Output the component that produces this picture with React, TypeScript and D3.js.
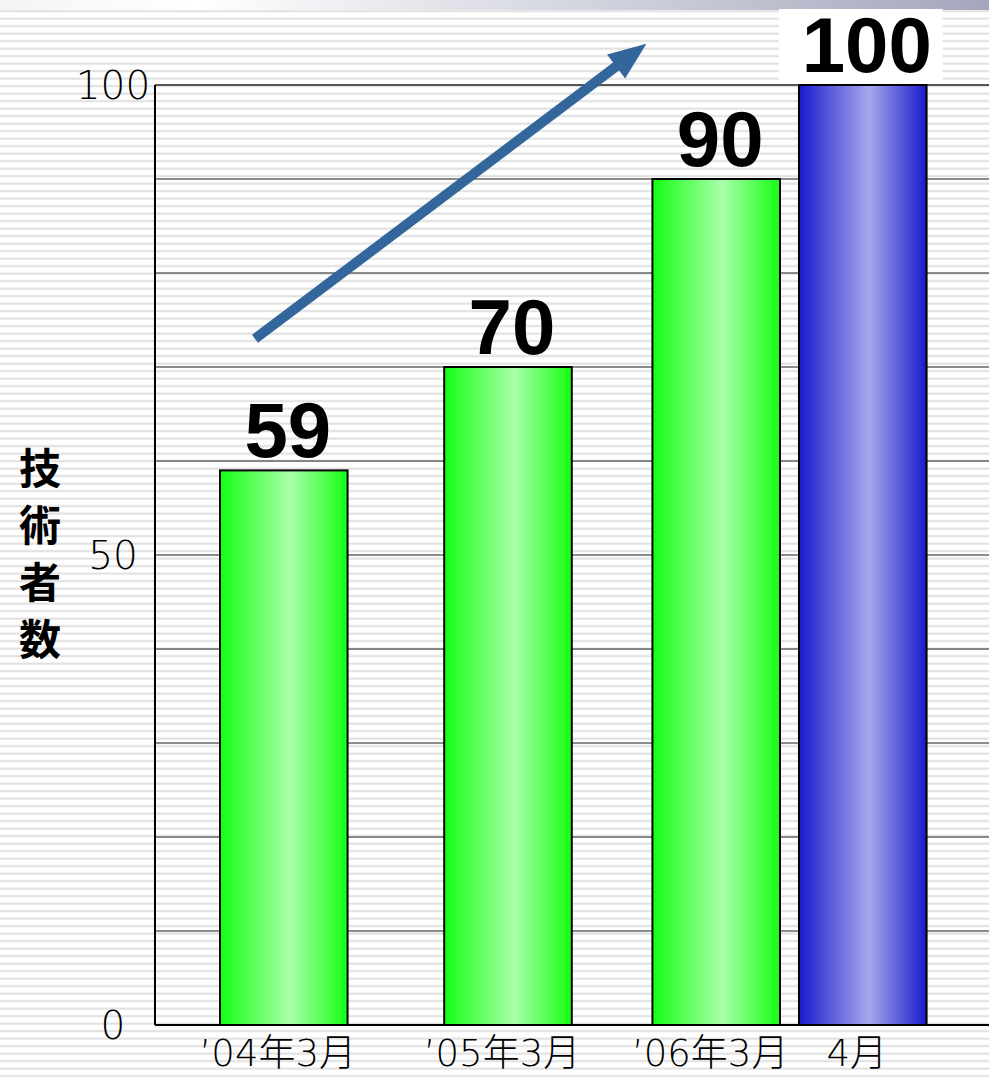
import React, { useRef, useEffect } from 'react';
import * as d3 from 'd3';

const categories = ['’04年3月', '’05年3月', '’06年3月', '4月'];
const values = [59, 70, 90, 100];
const yTicks = [0, 50, 100];
const gridValues = [10, 20, 30, 40, 50, 60, 70, 80, 90, 100];
const axisTitle = ['技', '術', '者', '数'];

const WIDTH = 989;
const HEIGHT = 1077;

function drawChart(svgEle: SVGSVGElement) {
  const svg = d3.select(svgEle);
  svg.selectAll('*').remove();

  const plot = { left: 155, right: WIDTH, top: 85, bottom: 1025 };

  const defs = svg.append('defs');
  // 背景の横縞
  const pattern = defs
    .append('pattern')
    .attr('id', 'stripes')
    .attr('patternUnits', 'userSpaceOnUse')
    .attr('width', 8)
    .attr('height', 7.5);
  pattern.append('rect').attr('width', 8).attr('height', 7.5).attr('fill', '#ffffff');
  pattern.append('rect').attr('y', 2.5).attr('width', 8).attr('height', 2.2).attr('fill', '#e2e2e2');

  const topGrad = defs.append('linearGradient').attr('id', 'topband');
  topGrad.append('stop').attr('offset', '0%').attr('stop-color', '#f4f4f6');
  topGrad.append('stop').attr('offset', '20%').attr('stop-color', '#ffffff');
  topGrad.append('stop').attr('offset', '100%').attr('stop-color', '#a4a7bc');

  const barGrad = (id: string, edge: string, mid: string) => {
    const g = defs.append('linearGradient').attr('id', id);
    g.append('stop').attr('offset', '0%').attr('stop-color', edge);
    g.append('stop').attr('offset', '55%').attr('stop-color', mid);
    g.append('stop').attr('offset', '100%').attr('stop-color', edge);
  };
  barGrad('green', '#14ff14', '#aaffaa');
  barGrad('blue', '#1a1acc', '#a8a8ee');

  svg.append('rect').attr('width', WIDTH).attr('height', HEIGHT).attr('fill', 'url(#stripes)');
  svg.append('rect').attr('width', WIDTH).attr('height', 10).attr('fill', 'url(#topband)');

  const y = d3.scaleLinear().domain([0, 100]).range([plot.bottom, plot.top]);

  // 3月の棒は等間隔、4月は'06年3月の隣に置く
  const x = d3
    .scaleBand<string>()
    .domain(categories.slice(0, 3))
    .range([220, 780])
    .paddingInner(0.41)
    .paddingOuter(0);
  const bw = x.bandwidth();
  const xPos = (c: string, i: number) =>
    i < 3 ? (x(c) as number) + (i === 1 ? 8 : 0) : (x(categories[2]) as number) + (bw + 19) * (i - 2);

  // 目盛線
  svg
    .selectAll('.grid')
    .data(gridValues)
    .enter()
    .append('line')
    .attr('x1', plot.left)
    .attr('x2', plot.right)
    .attr('y1', (d) => y(d))
    .attr('y2', (d) => y(d))
    .attr('stroke', (d) => (d === 100 ? '#222' : '#666'))
    .attr('stroke-width', 1.5);

  // 棒
  svg
    .selectAll('.bar')
    .data(values)
    .enter()
    .append('rect')
    .attr('x', (d, i) => xPos(categories[i], i))
    .attr('y', (d) => y(d))
    .attr('width', bw)
    .attr('height', (d) => y(0) - y(d))
    .attr('fill', (d, i) => (i === 3 ? 'url(#blue)' : 'url(#green)'))
    .attr('stroke', '#000')
    .attr('stroke-width', 2);

  // 軸線
  svg
    .append('line')
    .attr('x1', plot.left)
    .attr('x2', plot.left)
    .attr('y1', plot.top)
    .attr('y2', plot.bottom)
    .attr('stroke', '#000')
    .attr('stroke-width', 2);
  svg
    .append('line')
    .attr('x1', plot.left)
    .attr('x2', plot.right)
    .attr('y1', plot.bottom)
    .attr('y2', plot.bottom)
    .attr('stroke', '#000')
    .attr('stroke-width', 2);

  // y 目盛ラベル
  svg
    .selectAll('.ytick')
    .data(yTicks)
    .enter()
    .append('text')
    .attr('x', 113)
    .attr('y', (d) => y(d) + 14)
    .attr('text-anchor', 'middle')
    .attr('font-family', '"DejaVu Sans", "Noto Sans CJK JP", sans-serif')
    .attr('font-weight', 200)
    .attr('font-size', 39)
    .attr('fill', '#000')
    .text((d) => d);

  // x ラベル
  svg
    .selectAll('.xlabel')
    .data(categories)
    .enter()
    .append('text')
    .attr('x', (d, i) => xPos(d, i) + bw / 2 - 6)
    .attr('y', 1066)
    .attr('text-anchor', 'middle')
    .attr('font-family', '"DejaVu Sans", "Noto Sans CJK JP", sans-serif')
    .attr('font-weight', 200)
    .attr('font-size', 37)
    .attr('fill', '#000')
    .text((d) => d);

  // y 軸タイトル（縦書き）
  svg
    .selectAll('.ytitle')
    .data(axisTitle)
    .enter()
    .append('text')
    .attr('x', 40)
    .attr('y', (d, i) => 484 + i * 57)
    .attr('text-anchor', 'middle')
    .attr('font-family', '"Noto Sans CJK JP", sans-serif')
    .attr('font-weight', 700)
    .attr('font-size', 42)
    .attr('fill', '#000')
    .text((d) => d);

  // 値ラベル
  const labels = svg
    .selectAll('.vlabel')
    .data(values)
    .enter()
    .append('g');
  labels
    .filter((d, i) => i === values.length - 1)
    .append('rect')
    .attr('x', xPos(categories[3], 3) - 20)
    .attr('y', (d) => y(d) - 76)
    .attr('width', bw + 36)
    .attr('height', 75)
    .attr('fill', '#fff');
  labels
    .append('text')
    .attr('x', (d, i) => xPos(categories[i], i) + bw / 2 + 4)
    .attr('y', (d) => y(d) - 13)
    .attr('text-anchor', 'middle')
    .attr('font-family', '"Liberation Sans", Arial, sans-serif')
    .attr('font-weight', 700)
    .attr('font-size', 78)
    .attr('fill', '#000')
    .text((d) => d);

  // 増加傾向の矢印
  const x0 = (x(categories[0]) as number) + 35;
  const y0 = y(73);
  const x1 = (x(categories[2]) as number) - 6;
  const y1 = y(104.4);
  const ang = Math.atan2(y1 - y0, x1 - x0);
  const headLen = 38;
  const headHalf = 15;
  const bx = x1 - headLen * Math.cos(ang);
  const by = y1 - headLen * Math.sin(ang);
  svg
    .append('line')
    .attr('x1', x0)
    .attr('y1', y0)
    .attr('x2', bx + 2 * Math.cos(ang))
    .attr('y2', by + 2 * Math.sin(ang))
    .attr('stroke', '#33669a')
    .attr('stroke-width', 10);
  const px = -Math.sin(ang);
  const py = Math.cos(ang);
  svg
    .append('polygon')
    .attr(
      'points',
      [
        [x1, y1],
        [bx + px * headHalf, by + py * headHalf],
        [bx - px * headHalf, by - py * headHalf]
      ]
        .map((p) => p.join(','))
        .join(' ')
    )
    .attr('fill', '#33669a');
}

export default function App(): JSX.Element {
  const svgRef = useRef<SVGSVGElement>(null);

  useEffect(() => {
    document.body.style.margin = '0';
    document.body.style.overflow = 'hidden';
    if (svgRef.current == null) {
      return;
    }
    drawChart(svgRef.current);
  }, []);

  return <svg ref={svgRef} width={WIDTH} height={HEIGHT} style={{ display: 'block' }} />;
}
